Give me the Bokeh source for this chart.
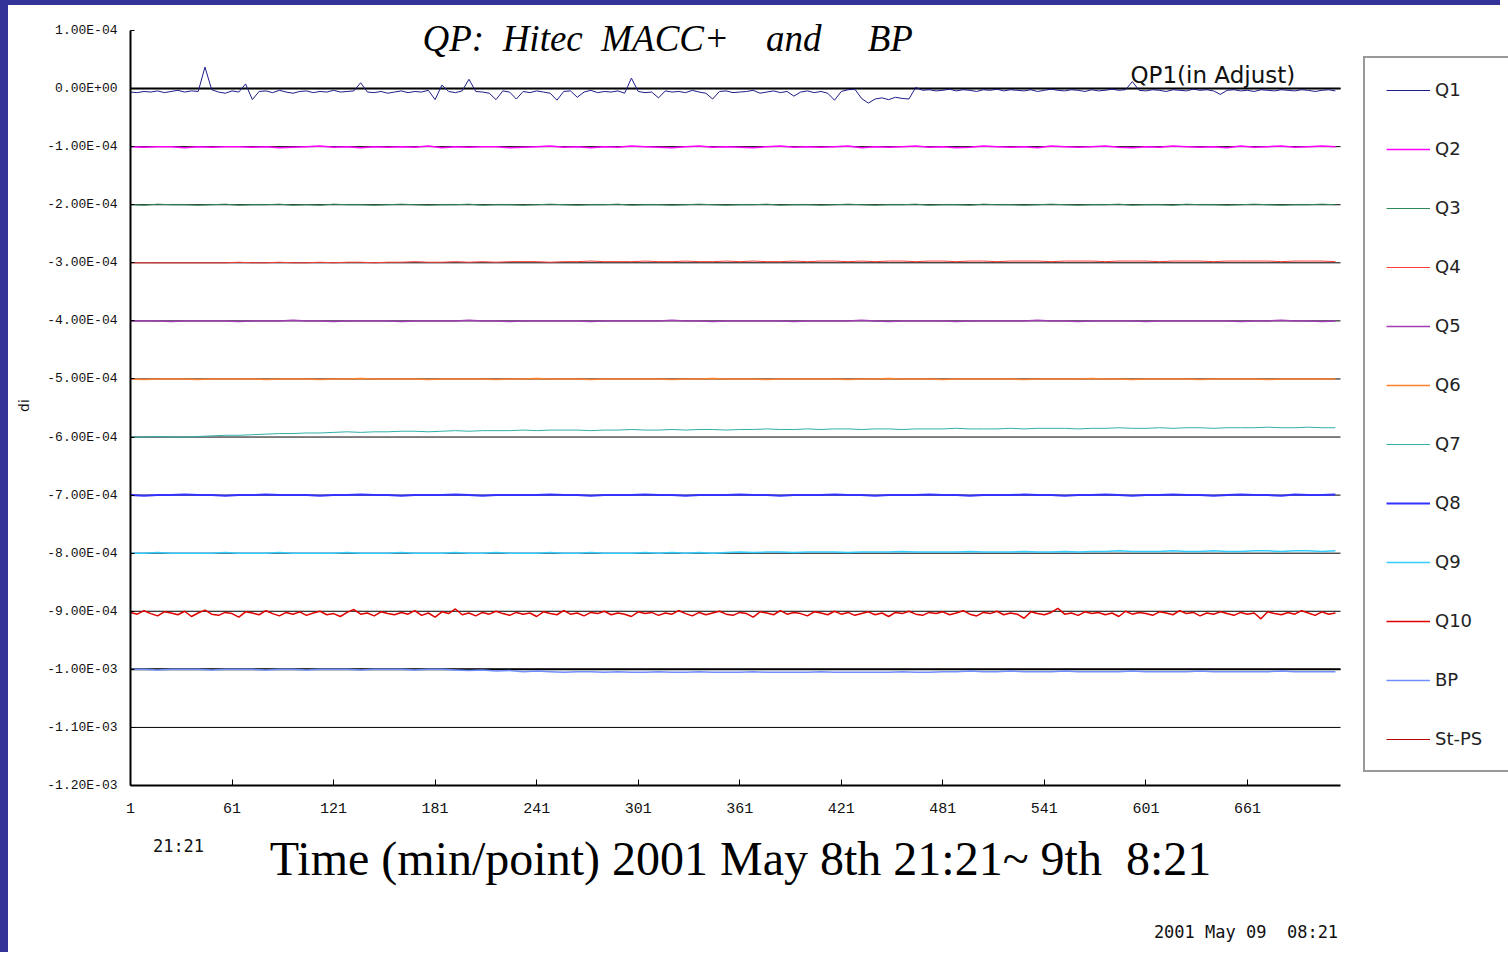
import numpy as np
from bokeh.plotting import figure
from bokeh.models import (FixedTicker, Label, Legend, LegendItem, Range1d,
                          LinearAxis)
from bokeh.embed import file_html
from bokeh.resources import INLINE

# ---------------- data (values in units of 1e-6) ----------------
minute_fine = list(range(1, 714, 4))     # sampling used for Q1 and Q10
minute_coarse = list(range(1, 714, 8))   # sampling used for the flatter channels

q1 = [-6,-7,-5,-6,-4,-7,-5,-3,-6,-4,
      -5,37,-2,-6,-8,-4,-6,8,-19,-5,
      -4,-7,-3,-6,-8,-5,-4,-7,-5,-6,
      -3,-6,-5,-4,10,-6,-7,-5,-8,-6,
      -4,-7,-5,-6,-3,-19,6,-5,-7,-4,
      16,-5,-6,-8,-19,-4,-6,-18,-5,-7,
      -4,-6,-8,-20,-5,-4,-15,-6,-3,-7,
      -5,-6,-4,-8,18,-5,-7,-6,-16,-4,
      -6,-5,-7,-3,-6,-8,-18,-5,-4,-7,
      -6,-5,-3,-8,-6,-4,-7,-5,-13,-6,
      -4,-7,-5,-8,-20,-5,-2,-1,-17,-25,
      -18,-16,-19,-15,-17,-18,2,-3,-2,-4,
      -3,-1,-4,-2,-3,-5,-2,-3,-1,-4,
      -2,-3,-4,-2,-5,-3,-1,-3,-4,-2,
      -3,-5,-2,-4,-3,-1,-3,-2,12,-3,
      -4,-2,-3,-5,-2,-3,-4,-1,-3,-2,
      -4,-10,-3,-2,-4,-3,-5,-2,-3,-4,
      -2,-3,-4,-2,-3,-5,-3,-2,-4]

q10 = [-902,-905,-899,-904,-908,-901,-903,-906,-900,-909,
       -903,-898,-905,-907,-902,-904,-910,-901,-903,-906,
       -899,-904,-908,-902,-905,-901,-907,-903,-900,-906,
       -904,-909,-902,-897,-905,-903,-908,-901,-904,-906,
       -902,-905,-899,-907,-903,-910,-901,-904,-896,-906,
       -903,-908,-902,-905,-900,-904,-907,-902,-905,-903,
       -909,-901,-904,-906,-899,-905,-903,-908,-902,-904,
       -900,-906,-903,-905,-909,-901,-904,-902,-907,-903,
       -905,-899,-904,-908,-902,-906,-903,-900,-905,-907,
       -902,-904,-910,-901,-903,-906,-899,-905,-902,-904,
       -908,-901,-903,-906,-900,-905,-902,-907,-904,-901,
       -906,-903,-909,-902,-904,-900,-905,-907,-902,-904,
       -901,-906,-903,-899,-905,-908,-902,-904,-900,-906,
       -903,-905,-912,-901,-904,-906,-902,-895,-905,-903,
       -907,-901,-904,-902,-906,-903,-909,-900,-905,-902,
       -904,-907,-901,-903,-906,-899,-904,-902,-908,-903,
       -905,-901,-904,-907,-902,-905,-903,-913,-901,-904,
       -906,-902,-905,-899,-903,-907,-901,-905,-903]

q2 = [-100,-101,-100,-100,-102,-100,-101,-100,-100,-101,
      -100,-102,-101,-100,-99,-101,-100,-102,-100,-101,
      -100,-101,-99,-102,-100,-101,-100,-100,-102,-101,
      -100,-99,-101,-100,-102,-100,-101,-99,-100,-101,
      -102,-100,-99,-101,-100,-101,-102,-100,-99,-101,
      -100,-101,-100,-99,-102,-100,-101,-100,-99,-101,
      -100,-102,-101,-99,-100,-101,-100,-102,-99,-100,
      -101,-100,-99,-101,-102,-100,-101,-99,-100,-101,
      -100,-102,-99,-101,-100,-99,-101,-100,-99,-100]

q3 = [-200,-201,-199,-200,-200,-201,-200,-199,-201,-200,
      -200,-199,-201,-200,-201,-199,-200,-200,-201,-200,
      -199,-200,-201,-200,-200,-199,-201,-200,-200,-201,
      -200,-199,-200,-201,-200,-200,-199,-201,-200,-200,
      -201,-200,-199,-200,-201,-200,-200,-199,-201,-200,
      -200,-201,-200,-199,-200,-201,-200,-200,-199,-201,
      -200,-200,-201,-199,-200,-200,-201,-200,-199,-200,
      -201,-200,-200,-199,-201,-200,-200,-201,-199,-200,
      -200,-201,-200,-199,-200,-201,-200,-200,-199,-200]

q4 = [-300,-300,-300,-300,-300,-300,-300,-300,-299,-300,
      -300,-299,-300,-300,-299,-300,-299,-299,-300,-299,
      -299,-298,-299,-299,-298,-299,-298,-299,-298,-298,
      -298,-299,-298,-298,-297,-298,-298,-298,-297,-298,
      -298,-297,-298,-298,-297,-298,-297,-298,-298,-297,
      -298,-297,-297,-298,-297,-298,-297,-297,-298,-297,
      -297,-298,-297,-297,-298,-297,-297,-297,-298,-297,
      -297,-297,-298,-297,-297,-297,-298,-297,-297,-297,
      -298,-297,-297,-297,-297,-298,-297,-297,-297,-298]

q5 = [-400,-400,-400,-401,-400,-400,-400,-400,-401,-400,
      -400,-400,-399,-400,-400,-401,-400,-400,-400,-400,
      -401,-400,-400,-400,-400,-399,-400,-400,-401,-400,
      -400,-400,-400,-400,-401,-400,-400,-400,-400,-400,
      -399,-400,-400,-401,-400,-400,-400,-400,-400,-401,
      -400,-400,-400,-400,-399,-400,-401,-400,-400,-400,
      -400,-401,-400,-400,-400,-400,-400,-399,-400,-400,
      -401,-400,-400,-400,-400,-401,-400,-400,-400,-400,
      -400,-400,-401,-400,-400,-399,-400,-400,-401,-400]

q6 = [-500,-501,-500,-500,-500,-501,-500,-500,-500,-500,
      -501,-500,-500,-500,-501,-500,-500,-499,-500,-500,
      -500,-500,-501,-500,-500,-500,-500,-501,-500,-500,
      -499,-500,-500,-500,-501,-500,-500,-500,-500,-500,
      -501,-500,-500,-499,-500,-500,-500,-501,-500,-500,
      -500,-500,-500,-501,-500,-500,-499,-500,-500,-500,
      -501,-500,-500,-500,-500,-500,-501,-500,-500,-500,
      -500,-499,-500,-500,-501,-500,-500,-500,-500,-501,
      -500,-500,-500,-500,-501,-500,-500,-500,-500,-500]

q7 = [-600,-600,-599,-600,-600,-599,
      -598,-597,-597,-596,-595,-594,-594,-593,-593,
      -592,-591,-592,-591,-591,-590,-590,-591,-590,-589,-590,-589,-589,
      -589,-588,-589,-588,-588,-588,-589,-588,-588,-587,-588,-588,-587,-588,-587,-587,-588,
      -587,-587,-586,-587,-587,-586,-587,-586,-586,-587,-586,-586,-587,-586,-586,-586,-585,-586,-586,-586,
      -585,-586,-585,-585,-585,-586,-585,-585,-584,-585,-585,-584,-585,-584,-584,-585,-584,-584,-584,-583,
      -584,-584,-583,-584,-584]

q8 = [-700,-701,-700,-700,-699,-700,-700,-701,-700,-700,
      -699,-700,-700,-700,-701,-700,-700,-699,-700,-700,
      -701,-700,-700,-700,-699,-700,-701,-700,-700,-700,
      -700,-699,-700,-700,-701,-700,-700,-700,-699,-700,
      -700,-701,-700,-700,-700,-699,-700,-700,-701,-700,
      -700,-700,-699,-700,-700,-701,-700,-700,-700,-699,
      -700,-700,-701,-700,-700,-700,-699,-700,-700,-701,
      -700,-700,-699,-700,-701,-700,-700,-699,-700,-700,
      -701,-700,-699,-700,-700,-701,-699,-700,-700,-699]

q9 = [-800,-800,-799,-800,-800,-800,-800,-799,-800,-800,
      -800,-799,-800,-800,-800,-800,-799,-800,-800,-800,
      -799,-800,-800,-800,-799,-800,-800,-799,-800,-800,
      -800,-799,-800,-800,-799,-800,-800,-800,-799,-800,
      -799,-800,-799,-800,-799,
      -798,-799,-798,-798,-799,-798,-798,-798,-799,-798,
      -798,-798,-797,-798,-798,-798,-798,-797,-798,-798,
      -798,-797,-798,-798,-797,-798,
      -797,-797,-796,-797,-797,-797,-796,-797,-797,-796,
      -797,-797,-796,-796,-797,-796,-796,-797,-796]

bp = [-1000,-1000,-1001,-1000,-1000,-1000,-1001,-1000,-1000,-1000,
      -1001,-1000,-1000,-1001,-1000,-1000,-1000,-1001,-1000,-1000,
      -1000,-1001,-1000,-1000,-1001,
      -1002,-1001,-1003,-1002,-1004,-1003,
      -1004,-1005,-1004,-1004,-1005,-1004,-1005,-1005,-1004,-1005,
      -1005,-1004,-1005,-1005,-1005,-1004,-1005,-1005,-1005,-1005,
      -1004,-1005,-1005,-1005,-1005,-1005,-1004,-1005,-1005,-1004,
      -1004,-1003,-1004,-1004,-1003,-1004,-1004,-1004,-1003,-1004,
      -1004,-1004,-1004,-1003,-1004,-1004,-1004,-1004,-1003,-1004,
      -1004,-1004,-1004,-1004,-1003,-1004,-1004,-1004,-1004]

# St-PS: no trace can be told apart in the picture; legend entry only
st_ps_minutes = [1]
st_ps = [float("nan")]

x_ticks = [1, 61, 121, 181, 241, 301, 361, 421, 481, 541, 601, 661]
x_axis_start, x_axis_end = 1, 716
y_tick_labels = ["1.00E-04", "0.00E+00", "-1.00E-04", "-2.00E-04", "-3.00E-04",
                 "-4.00E-04", "-5.00E-04", "-6.00E-04", "-7.00E-04", "-8.00E-04",
                 "-9.00E-04", "-1.00E-03", "-1.10E-03", "-1.20E-03"]
y_ticks = [float(s) for s in y_tick_labels]
y_title = "di"
start_time_label = "21:21"
end_time_label = "2001 May 09\u00a0 08:21"
x_title = "Time (min/point) 2001 May 8th 21:21~ 9th\u00a0 8:21"
chart_title = "QP:\u00a0 Hitec\u00a0 MACC+\u00a0\u00a0\u00a0 and\u00a0\u00a0\u00a0\u00a0 BP"
note_text = "QP1(in Adjust)"

series = [
    ("Q1", minute_fine, q1, "#1c1c8a", 1.0),
    ("Q2", minute_coarse, q2, "#ff00ff", 1.5),
    ("Q3", minute_coarse, q3, "#2e8b57", 1.0),
    ("Q4", minute_coarse, q4, "#ff3b3b", 1.0),
    ("Q5", minute_coarse, q5, "#a03cb4", 1.5),
    ("Q6", minute_coarse, q6, "#ff7f2a", 1.5),
    ("Q7", minute_coarse, q7, "#2fb0a8", 1.0),
    ("Q8", minute_coarse, q8, "#3333ff", 2.0),
    ("Q9", minute_coarse, q9, "#33ccff", 1.5),
    ("Q10", minute_fine, q10, "#e00000", 1.5),
    ("BP", minute_coarse, bp, "#6f8fff", 1.5),
    ("St-PS", st_ps_minutes, st_ps, "#b40000", 1.0),
]

# ---------------- layout (page pixels) ----------------
PAGE_W, PAGE_H = 1508, 957
EDGE_L, EDGE_T = 8, 5                  # dark blue slide edges
AX_LEFT, AX_RIGHT = 130, 1340          # where x = 1 and x = 716 fall
AX_TOP, AX_BOTTOM = 30, 785            # where y = 1e-4 and y = -1.2e-3 fall
x_per_px = (x_axis_end - x_axis_start) / (AX_RIGHT - AX_LEFT)
y_per_px = (y_ticks[0] - y_ticks[-1]) / (AX_BOTTOM - AX_TOP)
x_view_end = x_axis_end + (PAGE_W - AX_RIGHT) * x_per_px
y_view_top = y_ticks[0] + (AX_TOP - EDGE_T) * y_per_px

def x_at(px):
    return x_axis_start + (px - AX_LEFT) * x_per_px

def y_at(py):
    return y_ticks[0] - (py - AX_TOP) * y_per_px

p = figure(width=PAGE_W - EDGE_L, height=PAGE_H - EDGE_T,
           output_backend="svg", toolbar_location=None,
           x_range=Range1d(x_axis_start, x_view_end),
           y_range=Range1d(y_ticks[-1], y_view_top),
           min_border_left=AX_LEFT - EDGE_L, min_border_right=0,
           min_border_top=0, min_border_bottom=PAGE_H - AX_BOTTOM,
           styles={"border-left": f"{EDGE_L}px solid #333399",
                   "border-top": f"{EDGE_T}px solid #333399"})
p.title.visible = False
p.outline_line_color = None
p.background_fill_color = "white"
p.border_fill_color = "white"
p.xgrid.visible = False
p.ygrid.visible = False

# black reference lines at every level below the top
levels = y_ticks[1:-1]
p.segment(x0=[x_axis_start] * len(levels), x1=[x_axis_end] * len(levels),
          y0=levels, y1=levels, line_color="black", line_width=1)
thick = [y_ticks[1], y_ticks[11]]
p.segment(x0=[x_axis_start] * 2, x1=[x_axis_end] * 2, y0=thick, y1=thick,
          line_color="black", line_width=2)

# main axes
p.xaxis.ticker = FixedTicker(ticks=x_ticks)
p.xaxis.bounds = (x_axis_start, x_axis_end)
p.yaxis.ticker = FixedTicker(ticks=y_ticks)
p.yaxis.bounds = (y_ticks[-1], y_ticks[0])
p.yaxis.major_label_overrides = dict(zip(y_ticks, y_tick_labels))
for ax in (p.xaxis[0], p.yaxis[0]):
    ax.axis_line_color = "black"
    ax.axis_line_width = 2
    ax.major_tick_line_color = "black"
    ax.major_tick_out = 0
    ax.minor_tick_line_color = None
    ax.major_label_text_font = "Liberation Mono"
    ax.major_label_text_color = "#111111"
p.yaxis.major_tick_in = 4
p.xaxis.major_tick_in = 6
p.yaxis.major_label_text_font_size = "13px"
p.xaxis.major_label_text_font_size = "15px"
p.yaxis.major_label_standoff = 13
p.xaxis.major_label_standoff = 17


def text_axis(where, tick, text, font, size, standoff, orientation="horizontal",
              color="#111111"):
    ax = LinearAxis(ticker=FixedTicker(ticks=[tick]),
                    major_label_overrides={tick: text},
                    axis_line_color=None, major_tick_line_color=None,
                    minor_tick_line_color=None,
                    major_label_text_font=font, major_label_text_font_size=size,
                    major_label_text_color=color, major_label_standoff=standoff,
                    major_label_orientation=orientation)
    p.add_layout(ax, where)
    return ax

# y title "di", centred where the reference puts it
text_axis("left", y_at(405), y_title, "DejaVu Sans", "14px", 7, orientation="vertical")
# rows under the x axis
text_axis("below", x_at(178), start_time_label, "DejaVu Sans Mono", "17px", 14)
text_axis("below", x_at(740), x_title, "Liberation Serif", "48px", -33, color="black")
text_axis("below", x_at(1245.5), end_time_label, "DejaVu Sans Mono", "17px", 28)

# lines
items = []
for name, xs, vals, color, lw in series:
    r = p.line(x=list(xs), y=list(np.array(vals, dtype=float) * 1e-6),
               line_color=color, line_width=lw)
    items.append(LegendItem(label=name, renderers=[r]))

legend = Legend(items=items, location=(1363 - AX_LEFT, AX_BOTTOM - 772),
                orientation="vertical",
                border_line_color="#333333", border_line_width=2,
                background_fill_color="white", background_fill_alpha=1,
                padding=21, spacing=38, margin=0,
                glyph_width=44, glyph_height=20, label_height=20,
                label_standoff=5, label_width=80,
                label_text_font="DejaVu Sans", label_text_font_size="18px",
                label_text_color="#222222")
p.add_layout(legend)

# texts inside the plot area (screen units from the frame's bottom-left corner)
def add_label(px, py, text, font, size, style="normal", color="black"):
    p.add_layout(Label(x=px - AX_LEFT, y=AX_BOTTOM - py, x_units="screen", y_units="screen",
                       text=text, text_font=font, text_font_size=size,
                       text_font_style=style, text_color=color,
                       text_align="left", text_baseline="middle"))

add_label(422, 38, chart_title, "Liberation Serif", "37px", "italic")
add_label(1130, 74, note_text, "DejaVu Sans", "23px", color="#111111")

open("out.html", "w").write(file_html(p, INLINE))
